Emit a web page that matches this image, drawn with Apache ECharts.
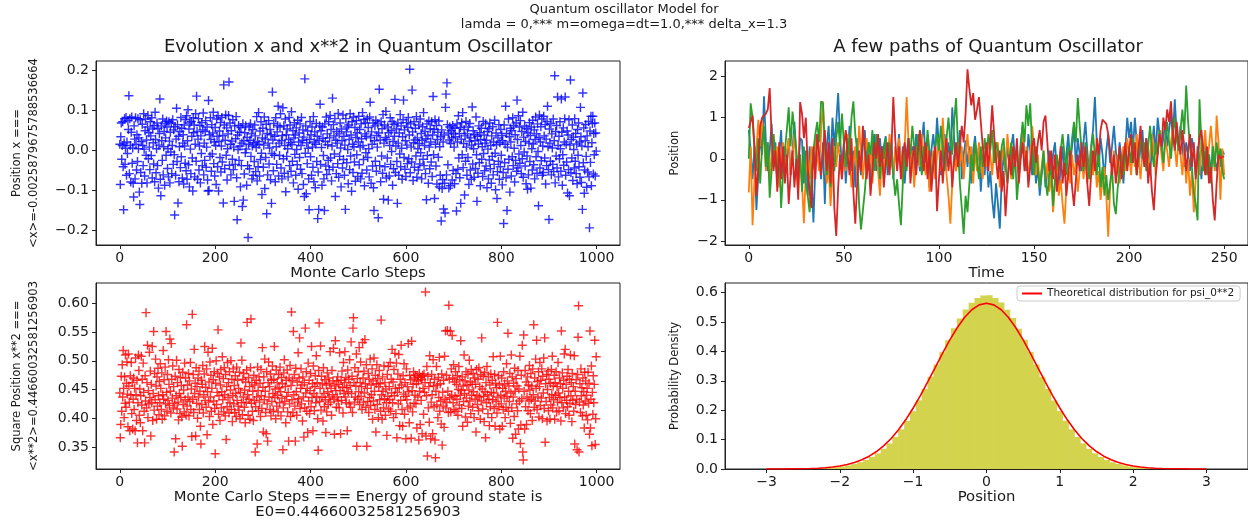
<!DOCTYPE html>
<html>
<head>
<meta charset="utf-8">
<script src="https://cdn.jsdelivr.net/npm/echarts@6/dist/echarts.min.js"></script>
<style>
  html, body { margin: 0; padding: 0; background: #fff; }
  #chart { width: 1248px; height: 524px; }
</style>
</head>
<body>
<div id="chart"></div>
<script>
// ---- Monte Carlo samples: <x> per step (1000 steps) ----
const xMean = [
0.015,-0.085,0.034,0.068,-0.022,0.012,0.071,-0.041,-0.148,0.018,0.079,-0.035,0.005,0.082,-0.062,0.021,-0.008,0.074,0.052,0.136,
-0.058,0.079,0.012,-0.079,0.045,0.083,-0.032,0.006,-0.082,-0.116,0.061,0.028,-0.071,0.081,0.015,-0.049,0.039,-0.028,0.079,0.004,
0.031,-0.104,-0.135,0.076,-0.055,0.022,-0.082,0.065,0.012,-0.038,0.091,0.003,-0.064,0.049,0.078,-0.012,0.026,-0.081,0.058,0.087,
-0.021,0.044,0.008,-0.048,0.071,0.036,-0.013,0.081,-0.069,0.053,0.019,-0.034,0.062,-0.078,0.095,0.027,-0.056,0.004,0.068,-0.038,
0.055,-0.094,0.013,0.042,0.128,-0.072,-0.113,0.061,0.024,-0.025,0.078,-0.061,0.009,0.047,-0.087,0.066,0.031,-0.012,0.073,0.058,
-0.045,0.004,-0.066,0.071,0.023,-0.081,0.045,-0.004,0.068,-0.058,0.012,0.076,-0.035,0.051,-0.011,-0.161,0.059,-0.062,0.028,0.105,
-0.028,0.064,-0.131,0.035,-0.078,0.009,0.047,-0.043,0.082,-0.016,0.055,-0.069,0.018,0.039,-0.084,0.063,0.011,-0.032,0.077,-0.051,
0.086,-0.072,0.024,0.101,-0.036,0.053,-0.091,0.068,0.003,-0.058,0.072,0.035,-0.019,-0.101,0.081,0.044,0.063,-0.066,0.015,0.091,
-0.027,0.135,0.047,-0.072,0.028,0.079,-0.049,0.011,0.062,-0.081,0.036,-0.008,0.069,-0.038,0.051,0.093,-0.061,0.018,-0.025,0.047,
0.074,-0.042,0.008,0.058,-0.074,-0.101,0.124,-0.1,0.039,-0.015,0.081,0.027,-0.052,0.064,-0.009,0.043,0.095,-0.033,0.021,-0.064,
0.057,0.012,-0.085,0.078,0.035,-0.041,0.086,-0.101,0.022,0.048,-0.018,0.069,-0.054,0.011,0.082,-0.029,0.037,-0.131,0.163,0.063,
-0.046,0.025,0.088,-0.012,0.056,-0.074,0.004,0.041,0.087,0.17,-0.037,0.068,0.015,-0.061,0.049,0.023,-0.022,0.076,-0.048,0.008,
-0.127,0.061,-0.035,0.029,0.084,-0.068,-0.173,0.038,0.002,0.062,-0.025,0.045,0.011,-0.091,0.057,-0.038,0.018,-0.14,0.066,-0.124,
0.024,-0.059,0.044,-0.006,0.061,0.003,-0.087,0.032,-0.038,-0.217,0.015,0.058,-0.046,0.025,0.066,-0.015,0.041,-0.071,0.011,0.052,
-0.062,0.019,-0.028,0.063,0.036,-0.053,0.007,0.084,-0.076,0.022,-0.041,0.094,0.015,-0.064,0.048,-0.023,0.071,-0.007,-0.11,0.031,
0.055,-0.042,0.013,0.083,-0.095,0.028,-0.018,0.065,-0.158,0.042,-0.061,0.018,0.074,-0.034,0.006,0.052,-0.073,0.039,-0.132,-0.008,
0.145,0.026,-0.051,0.067,-0.012,0.035,-0.078,0.081,0.009,-0.035,0.046,0.062,0.11,-0.064,0.018,-0.013,0.058,0.091,-0.044,0.024,
-0.071,0.037,0.106,-0.021,0.061,-0.057,0.012,0.078,-0.103,0.039,-0.015,0.053,0.004,-0.066,0.027,0.082,-0.038,0.063,0.019,-0.052,
0.096,0.014,-0.027,0.049,-0.081,0.031,0.069,-0.01,0.038,-0.062,0.056,0.002,-0.036,0.075,-0.097,0.021,0.043,-0.018,0.066,-0.047,
0.012,0.082,-0.058,0.025,0.051,-0.085,0.033,-0.115,0.178,-0.007,0.061,-0.108,0.019,-0.033,0.048,0.005,-0.071,-0.148,0.027,0.072,
-0.016,0.039,-0.062,0.058,0.008,-0.042,0.084,-0.078,0.021,0.046,-0.093,0.015,0.067,-0.028,0.035,-0.17,-0.054,-0.147,0.025,0.061,
0.115,-0.035,0.049,0.007,-0.087,0.058,0.03,-0.013,-0.071,-0.15,0.066,0.022,-0.039,0.083,-0.06,0.041,0.014,-0.025,0.071,-0.048,
0.031,0.087,-0.019,0.052,-0.076,0.011,0.13,-0.042,0.064,0.036,-0.009,0.079,-0.115,0.025,-0.058,0.047,0.018,-0.033,0.092,-0.067,
0.041,-0.015,0.068,0.006,-0.091,0.053,0.024,-0.044,0.088,-0.023,0.035,-0.062,0.013,-0.147,0.079,0.046,-0.031,0.058,0.002,-0.083,
0.063,0.027,-0.048,0.091,-0.014,0.038,-0.102,0.071,0.015,-0.055,0.083,0.009,-0.029,0.057,-0.077,0.032,0.074,-0.011,0.044,-0.065,
0.021,0.085,-0.036,0.052,0.008,-0.071,0.066,0.029,-0.057,0.094,0.012,-0.023,0.077,-0.088,0.041,0.068,-0.006,0.035,-0.049,0.079,
-0.018,0.057,0.004,-0.066,0.083,0.12,0.031,-0.082,0.046,0.015,-0.039,0.068,-0.093,-0.15,0.024,0.061,-0.027,0.075,-0.052,0.037,
0.008,0.066,-0.168,0.043,0.152,-0.038,0.026,-0.078,0.071,-0.014,0.054,-0.057,0.089,-0.122,0.018,0.063,-0.041,0.032,0.097,-0.069,
0.027,-0.019,0.058,-0.124,0.044,-0.064,0.012,0.081,-0.035,0.049,-0.003,0.072,-0.087,0.022,-0.046,0.065,0.035,0.127,-0.055,0.011,
0.053,-0.028,-0.132,0.068,0.018,-0.062,0.043,-0.009,0.089,-0.041,0.061,0.005,-0.072,0.034,0.076,0.125,-0.018,0.051,-0.047,0.024,
-0.065,0.069,0.013,-0.033,0.057,0.082,-0.021,0.038,0.202,-0.056,0.066,0.008,-0.029,0.15,0.046,-0.075,0.019,0.071,-0.042,0.026,
0.055,-0.014,0.084,-0.067,0.031,0.004,-0.049,0.063,0.017,-0.034,0.078,-0.006,0.042,-0.071,0.025,0.059,-0.022,0.094,-0.038,0.012,
0.047,-0.058,0.029,-0.123,0.066,-0.013,0.036,-0.082,0.073,0.008,-0.046,0.054,0.021,-0.029,0.071,-0.065,0.038,0.134,-0.011,0.052,
-0.12,0.076,0.015,-0.039,0.062,-0.084,0.027,0.045,-0.017,0.073,-0.091,0.009,-0.062,0.034,-0.176,0.051,-0.095,-0.073,0.021,-0.146,
0.038,-0.082,-0.156,0.107,0.14,-0.061,0.168,0.064,-0.036,0.043,-0.094,0.026,0.058,-0.088,0.017,0.049,0.031,-0.074,0.062,-0.05,
0.041,0.008,-0.083,0.055,0.034,-0.058,-0.151,0.066,0.021,-0.047,0.086,-0.019,0.042,-0.068,0.057,-0.132,0.028,0.069,-0.011,0.094,
-0.043,0.017,0.052,-0.111,0.036,-0.027,0.072,0.008,-0.062,0.041,-0.018,0.058,-0.085,0.023,0.067,-0.049,0.031,-0.072,0.013,0.108,
-0.034,0.049,0.004,-0.067,0.039,0.024,-0.045,0.083,-0.011,-0.127,0.035,-0.057,0.016,0.061,-0.031,0.044,-0.088,0.027,0.055,-0.022,
0.009,-0.065,0.072,-0.008,0.038,-0.051,0.018,0.066,-0.039,0.025,-0.093,0.047,0.003,-0.071,0.054,-0.024,0.068,-0.046,0.012,-0.082,
0.036,-0.015,0.059,-0.061,0.021,-0.035,0.075,-0.007,-0.098,0.043,0.014,-0.12,-0.053,0.031,-0.027,0.064,-0.072,0.019,-0.041,0.052,
-0.012,0.037,-0.086,0.024,-0.055,-0.182,0.063,-0.031,0.015,0.11,-0.068,0.042,-0.15,0.008,-0.047,0.078,-0.022,0.034,-0.104,0.055,
0.021,-0.064,0.049,-0.016,0.081,-0.038,0.062,0.005,-0.079,0.039,-0.025,0.068,-0.052,0.125,0.027,-0.044,0.086,-0.009,0.058,-0.032,
0.074,0.012,-0.058,0.047,-0.021,0.095,-0.067,0.033,-0.004,0.061,-0.039,0.022,-0.083,0.054,-0.014,-0.097,0.043,-0.061,0.018,0.069,
-0.028,0.037,-0.094,0.058,0.004,-0.049,0.075,0.016,-0.036,0.051,-0.071,0.027,0.083,-0.016,0.041,-0.057,0.066,-0.003,-0.138,0.032,
0.088,-0.044,0.021,0.059,-0.026,0.078,-0.062,0.011,-0.055,0.085,0.036,-0.019,0.064,-0.084,0.028,-0.038,0.072,0.11,0.009,-0.048,
-0.172,0.053,0.018,-0.027,0.067,-0.061,0.041,0.006,-0.035,0.078,-0.053,0.024,0.186,-0.081,0.047,-0.014,0.062,-0.044,0.133,0.012,
-0.066,0.035,-0.021,0.071,0.004,-0.052,0.128,0.045,-0.087,-0.011,0.056,-0.037,0.021,0.079,0.133,-0.062,0.015,-0.029,0.048,-0.106,
0.038,-0.048,0.076,-0.113,0.013,0.175,-0.056,0.027,-0.019,0.063,-0.075,0.033,0.002,-0.044,0.079,-0.027,0.042,-0.058,0.016,-0.083,
0.052,-0.012,0.068,-0.041,0.021,-0.067,0.107,0.034,-0.08,0.011,-0.147,0.143,-0.031,0.056,-0.107,-0.049,0.024,0.064,-0.015,-0.092,
0.036,-0.054,0.009,0.072,-0.066,-0.193,0.048,-0.03,0.085,-0.088,0.019,0.067,0.085,-0.059,0.042,-0.011,0.068,-0.064,0.043,-0.002
];

// ---- Monte Carlo samples: <x**2> per step (1000 steps) ----
const xSquare = [
0.444,0.366,0.389,0.473,0.412,0.493,0.437,0.518,0.452,0.401,0.472,0.426,0.51,0.419,0.461,0.498,0.442,0.385,0.512,0.456,
0.428,0.378,0.474,0.44,0.497,0.408,0.462,0.381,0.433,0.47,0.415,0.452,0.378,0.505,0.441,0.396,0.466,0.357,0.427,0.51,
0.483,0.405,0.451,0.392,0.439,0.508,0.423,0.468,0.378,0.496,0.445,0.412,0.357,0.474,0.43,0.584,0.418,0.462,0.527,0.401,
0.448,0.425,0.515,0.436,0.482,0.369,0.459,0.427,0.525,0.396,0.443,0.551,0.414,0.478,0.432,0.503,0.456,0.398,0.472,0.421,
0.487,0.439,0.406,0.464,0.427,0.495,0.452,0.415,0.479,0.398,0.441,0.518,0.433,0.467,0.404,0.489,0.425,0.551,0.445,0.412,
0.476,0.431,0.502,0.459,0.422,0.538,0.447,0.409,0.53,0.468,0.435,0.491,0.418,0.455,0.341,0.426,0.473,0.364,0.439,0.501,
0.416,0.462,0.428,0.397,0.485,0.443,0.408,0.471,0.436,0.457,0.402,0.351,0.48,0.424,0.449,0.411,0.496,0.432,0.47,0.405,
0.563,0.421,0.458,0.437,0.478,0.404,0.465,0.429,0.497,0.415,0.451,0.368,0.581,0.433,0.476,0.41,0.52,0.443,0.461,0.369,
0.488,0.426,0.455,0.4,0.47,0.437,0.482,0.415,0.447,0.386,0.355,0.466,0.424,0.459,0.492,0.409,0.441,0.477,0.525,0.431,
0.454,0.419,0.486,0.371,0.446,0.515,0.428,0.463,0.403,0.498,0.437,0.475,0.412,0.452,0.522,0.389,0.467,0.43,0.481,0.417,
0.338,0.461,0.5,0.424,0.445,0.478,0.554,0.407,0.439,0.472,0.396,0.458,0.485,0.418,0.446,0.507,0.432,0.469,0.411,0.488,
0.441,0.404,0.476,0.363,0.455,0.42,0.497,0.436,0.462,0.409,0.481,0.427,0.449,0.5,0.415,0.468,0.394,0.439,0.486,0.425,
0.457,0.41,0.474,0.443,0.403,0.489,0.431,0.466,0.421,0.452,0.414,0.48,0.399,0.445,0.531,0.427,0.501,0.406,0.468,0.437,
0.478,0.419,0.449,0.392,0.463,0.428,0.484,0.567,0.441,0.405,0.471,0.433,0.455,0.398,0.488,0.573,0.426,0.462,0.412,0.447,
0.396,0.475,0.431,0.458,0.341,0.42,0.466,0.437,0.355,0.489,0.448,0.413,0.472,0.428,0.461,0.403,0.485,0.439,0.417,0.523,
0.454,0.376,0.472,0.432,0.503,0.447,0.41,0.373,0.481,0.425,0.36,0.462,0.498,0.437,0.455,0.415,0.477,0.404,0.466,0.429,
0.491,0.443,0.412,0.468,0.525,0.436,0.451,0.399,0.484,0.421,0.462,0.44,0.411,0.476,0.453,0.427,0.489,0.446,0.404,0.471,
0.435,0.46,0.345,0.418,0.479,0.502,0.429,0.455,0.392,0.466,0.438,0.484,0.411,0.445,0.36,0.47,0.425,0.492,0.403,0.457,
0.585,0.432,0.466,0.41,0.551,0.441,0.476,0.421,0.36,0.487,0.446,0.405,0.463,0.428,0.514,0.434,0.47,0.54,0.417,0.452,
0.486,0.425,0.458,0.395,0.472,0.437,0.367,0.462,0.418,0.557,0.444,0.481,0.412,0.452,0.375,0.496,0.43,0.466,0.408,0.448,
0.478,0.42,0.525,0.436,0.46,0.378,0.491,0.443,0.413,0.455,0.474,0.427,0.509,0.438,0.462,0.399,0.344,0.483,0.566,0.429,
0.452,0.526,0.414,0.473,0.436,0.46,0.395,0.488,0.443,0.42,0.467,0.432,0.375,0.458,0.411,0.479,0.446,0.424,0.47,0.437,
0.461,0.516,0.428,0.452,0.405,0.483,0.441,0.465,0.522,0.433,0.372,0.456,0.535,0.448,0.419,0.465,0.437,0.472,0.43,0.459,
0.418,0.514,0.448,0.373,0.466,0.431,0.482,0.454,0.409,0.497,0.443,0.462,0.516,0.437,0.471,0.427,0.453,0.378,0.484,0.446,
0.468,0.425,0.502,0.457,0.419,0.533,0.443,0.473,0.41,0.557,0.575,0.462,0.428,0.488,0.437,0.456,0.512,0.351,0.469,0.433,
0.481,0.446,0.523,0.424,0.462,0.498,0.438,0.455,0.415,0.532,0.47,0.428,0.482,0.444,0.537,0.46,0.419,0.493,0.351,0.452,
0.429,0.478,0.41,0.468,0.436,0.503,0.422,0.458,0.441,0.486,0.398,0.465,0.43,0.505,0.447,0.415,0.475,0.376,0.46,0.493,
0.424,0.469,0.401,0.455,0.483,0.432,0.46,0.412,0.571,0.441,0.398,0.472,0.447,0.418,0.491,0.434,0.462,0.405,0.451,0.427,
0.37,0.476,0.438,0.49,0.416,0.455,0.432,0.497,0.412,0.468,0.444,0.52,0.427,0.463,0.401,0.485,0.439,0.513,0.452,0.408,
0.496,0.366,0.445,0.477,0.425,0.511,0.453,0.387,0.468,0.431,0.527,0.458,0.415,0.386,0.474,0.442,0.495,0.407,0.462,0.438,
0.364,0.486,0.432,0.455,0.418,0.53,0.446,0.392,0.475,0.421,0.467,0.365,0.534,0.448,0.411,0.459,0.481,0.426,0.47,0.44,
0.475,0.425,0.46,0.383,0.472,0.437,0.465,0.362,0.478,0.447,0.389,0.471,0.431,0.467,0.373,0.475,0.452,0.407,0.477,0.445,
0.462,0.62,0.369,0.439,0.49,0.334,0.473,0.418,0.455,0.393,0.509,0.462,0.364,0.428,0.476,0.441,0.373,0.502,0.456,0.42,
0.468,0.362,0.331,0.447,0.49,0.423,0.458,0.401,0.471,0.436,0.506,0.412,0.46,0.43,0.39,0.477,0.353,0.445,0.421,0.466,
0.384,0.508,0.433,0.552,0.418,0.475,0.428,0.553,0.447,0.41,0.597,0.468,0.436,0.552,0.411,0.486,0.44,0.544,0.47,0.427,
0.493,0.415,0.463,0.438,0.481,0.412,0.459,0.433,0.474,0.405,0.45,0.49,0.423,0.467,0.44,0.535,0.448,0.417,0.472,0.386,
0.456,0.429,0.51,0.443,0.465,0.402,0.481,0.435,0.458,0.393,0.476,0.421,0.449,0.501,0.43,0.463,0.408,0.485,0.44,0.459,
0.419,0.478,0.446,0.401,0.47,0.433,0.459,0.376,0.485,0.44,0.424,0.468,0.413,0.488,0.437,0.455,0.398,0.476,0.43,0.54,
0.451,0.416,0.473,0.438,0.394,0.48,0.446,0.366,0.462,0.427,0.49,0.441,0.408,0.472,0.433,0.387,0.458,0.42,0.477,0.445,
0.401,0.466,0.432,0.507,0.444,0.417,0.476,0.386,0.461,0.429,0.453,0.409,0.567,0.437,0.474,0.42,0.458,0.381,0.508,0.44,
0.425,0.47,0.386,0.452,0.415,0.481,0.435,0.46,0.401,0.447,0.419,0.495,0.438,0.465,0.548,0.412,0.456,0.429,0.478,0.391,
0.444,0.51,0.418,0.472,0.365,0.437,0.461,0.403,0.487,0.447,0.372,0.469,0.425,0.456,0.413,0.483,0.381,0.451,0.43,0.508,
0.356,0.388,0.475,0.434,0.527,0.341,0.327,0.545,0.447,0.381,0.483,0.42,0.463,0.389,0.437,0.472,0.413,0.458,0.43,0.492,
0.449,0.408,0.478,0.433,0.456,0.396,0.486,0.441,0.563,0.419,0.47,0.43,0.503,0.452,0.536,0.415,0.464,0.437,0.481,0.402,
0.455,0.497,0.422,0.466,0.435,0.486,0.399,0.473,0.444,0.505,0.417,0.54,0.358,0.46,0.429,0.476,0.395,0.45,0.482,0.413,
0.468,0.436,0.398,0.461,0.423,0.485,0.441,0.508,0.418,0.456,0.432,0.475,0.398,0.462,0.44,0.481,0.411,0.455,0.428,0.497,
0.444,0.413,0.47,0.436,0.46,0.395,0.552,0.427,0.479,0.452,0.418,0.466,0.512,0.437,0.52,0.408,0.459,0.431,0.473,0.42,
0.485,0.447,0.405,0.468,0.426,0.51,0.439,0.462,0.394,0.478,0.431,0.455,0.412,0.509,0.355,0.447,0.424,0.467,0.433,0.345,
0.476,0.541,0.596,0.341,0.428,0.46,0.41,0.486,0.439,0.453,0.404,0.47,0.423,0.446,0.383,0.48,0.43,0.465,0.405,0.44,
0.452,0.397,0.48,0.426,0.461,0.372,0.552,0.383,0.433,0.491,0.352,0.445,0.407,0.474,0.427,0.459,0.536,0.354,0.399,0.507
];

// ---- Four sample paths, position at times 0..250 ----
const pathBlue = [
0.7,0.2,-0.5,0.3,-1.25,-0.4,0.6,0.1,1.52,0.4,-0.3,0.2,0.85,-0.2,0.4,-0.6,0.1,0.7,-0.35,0.3,-0.1,0.5,-0.4,0.2,0.9,
0.1,-0.3,0.5,0.45,-0.6,0.2,-0.9,0.3,-0.4,-1.55,-0.2,0.6,0.1,-0.5,0.4,-1.1,0.3,0.8,-0.2,1.0,0.3,0.9,1.6,0.5,-0.2,
0.4,-0.6,0.1,0.8,-0.3,0.2,-0.7,0.5,0.0,-0.4,0.3,0.7,-0.1,0.4,-0.55,0.2,0.6,-0.3,0.1,0.5,-0.2,0.3,0.55,-0.4,0.1,
0.45,-0.5,0.2,0.0,0.6,-0.3,0.3,-0.6,0.15,0.5,-0.2,0.3,-0.45,0.6,0.1,-0.3,0.4,0.9,-0.1,0.5,-0.7,0.2,0.6,0.1,1.0,
0.3,-0.4,0.2,0.6,-0.2,0.4,0.0,1.25,0.5,-0.3,0.2,0.7,-0.5,0.1,0.45,-0.2,0.3,-0.6,0.2,0.55,-0.1,0.3,-0.8,0.0,-0.4,
0.2,-0.7,-0.3,-1.0,-1.45,-0.6,-1.1,-1.7,-0.5,0.1,-0.3,0.4,-0.2,0.3,0.6,-0.1,0.2,-0.5,0.4,0.8,0.1,-0.3,0.6,0.2,-0.4,
0.3,-0.6,-0.2,-0.9,-0.4,0.1,-0.7,-0.3,0.2,-0.5,0.1,0.4,-0.3,-0.8,-0.2,0.3,-0.4,0.1,0.6,-0.1,0.3,0.8,-0.2,0.5,0.1,
-0.3,0.4,0.9,0.2,-0.4,0.3,0.7,1.5,0.4,-0.2,0.5,0.1,-0.5,0.2,0.6,-0.1,0.3,0.8,0.2,-0.3,0.4,0.0,-0.6,0.2,1.0,
0.5,0.9,0.2,1.0,0.4,-0.2,0.3,0.7,-0.1,0.5,0.2,-0.4,0.3,0.8,0.1,1.0,0.6,0.2,0.5,0.9,0.3,0.7,1.1,0.5,1.45,
0.6,0.2,0.8,0.3,-0.2,0.4,0.1,-0.3,0.5,0.2,-0.4,0.3,0.0,-0.5,0.2,0.4,-0.2,0.1,-0.4,0.3,0.0,-0.3,0.1,-0.2,0.2,
0.1
];
const pathOrange = [
-0.82,0.3,-1.62,-0.5,0.2,0.95,0.3,0.95,0.5,-0.3,0.4,-0.5,0.1,0.6,-0.2,0.3,-0.7,0.0,0.4,-0.3,0.2,0.5,-0.4,0.1,0.6,
-0.2,-0.8,0.1,-0.6,-1.57,-0.3,0.2,-0.5,0.3,-0.1,0.5,0.1,-0.3,0.6,1.4,0.2,-0.6,-0.2,-1.15,-0.4,0.3,-0.2,0.4,0.0,-0.5,
0.2,-0.3,0.6,0.1,-0.7,-0.2,0.3,-0.4,0.8,0.2,-0.5,0.1,0.5,-0.2,0.3,-0.6,0.0,0.4,-0.3,-0.9,0.2,-0.5,0.3,-0.1,0.6,
0.1,-0.4,0.3,-0.2,0.5,0.0,-0.6,0.3,1.5,0.4,-0.3,0.2,-0.7,0.1,0.4,-0.2,0.6,0.0,-0.4,0.3,-0.8,-0.2,0.2,-0.5,0.1,
0.5,-0.3,1.0,0.2,-0.4,-0.9,-1.58,-0.6,0.1,-0.3,0.4,-0.2,0.3,-0.5,0.1,0.6,-0.1,0.3,-0.6,0.2,-0.3,0.4,0.0,-0.5,0.2,
-0.2,0.5,0.1,-0.4,0.3,-0.1,0.4,-0.7,0.0,0.3,-0.3,0.6,0.1,-0.5,0.2,-0.1,0.3,-0.4,0.1,0.7,-0.2,0.3,-0.5,0.0,0.8,
0.3,-0.4,0.1,-0.7,-0.2,0.2,-0.5,-0.1,-0.8,-0.4,-1.3,-0.6,-0.2,-0.9,-0.5,-1.1,-1.58,-0.7,-0.2,-0.6,0.1,-0.4,-0.1,-0.8,-0.3,
0.2,-0.5,0.0,-0.6,-0.2,0.3,-0.4,0.1,-0.7,-0.3,-1.0,-0.5,-0.2,-0.9,-1.9,-0.7,-0.2,0.2,-0.4,0.1,-0.6,-0.2,0.3,-0.3,0.5,
0.1,-0.4,0.3,-0.2,0.6,0.0,-0.5,0.2,-0.1,0.4,-0.3,0.1,0.6,0.2,-0.4,0.3,0.7,0.1,-0.3,0.5,0.2,-0.2,0.4,0.8,0.3,
-0.2,0.5,0.1,-0.4,0.3,-0.6,0.0,-0.9,-0.3,-1.3,-0.5,0.2,-0.4,0.4,0.1,0.7,-0.1,0.3,0.8,0.2,-0.3,1.05,0.4,-1.0,0.25,
-0.4
];
const pathGreen = [
0.0,1.35,1.0,0.2,-0.3,0.5,-0.6,0.3,0.8,-0.2,0.4,-0.95,-0.3,0.6,0.1,-0.5,0.3,-1.2,-0.4,0.2,0.7,1.25,0.3,1.15,1.15,
0.2,-0.5,0.1,-0.8,0.3,-0.6,-0.9,-1.3,-0.4,0.2,0.6,0.9,0.4,1.4,1.35,0.3,-0.4,0.1,-0.7,0.2,-0.3,0.5,0.9,0.3,1.1,
0.4,-0.2,0.5,0.1,1.0,1.4,0.6,0.2,-1.1,-1.72,-1.72,-0.8,-0.2,0.4,0.1,0.7,-0.3,0.6,0.2,-0.5,0.3,0.0,0.5,-0.2,0.4,
0.1,-0.4,-0.9,-0.5,-1.1,-1.62,-0.6,0.2,-0.3,0.5,0.1,0.8,0.3,-0.2,0.6,0.2,-0.4,0.3,0.0,0.7,0.2,-0.5,-0.1,0.3,0.6,
0.2,0.8,0.3,-0.3,0.5,1.0,0.4,0.1,0.9,1.48,0.3,-0.6,-1.2,-1.83,-0.9,-1.3,-0.6,0.1,-0.3,0.4,0.0,-0.5,0.3,-0.2,0.5,
0.1,0.6,0.2,0.7,-0.1,0.4,0.2,-0.3,0.3,0.5,-0.2,-0.6,-0.1,0.4,-0.5,0.2,-1.0,-0.4,0.3,0.9,0.4,1.3,0.8,1.35,0.2,
-0.4,0.3,-0.2,-0.7,-0.3,0.2,-0.5,-0.9,-0.4,-0.1,-1.15,-0.5,0.1,-0.3,0.2,0.6,0.1,-0.4,0.3,0.0,0.5,0.9,0.4,1.48,0.8,
0.2,-0.3,0.4,0.0,-0.5,0.2,0.6,0.1,-0.4,0.3,-0.7,-0.2,-0.9,-0.4,-1.0,-0.6,-0.2,-1.1,-1.35,-0.7,-0.3,0.1,-0.4,0.2,-0.2,
0.3,-0.1,0.5,0.1,-0.4,0.2,0.6,0.0,0.4,-0.3,0.3,0.8,0.2,-0.2,0.4,0.1,0.7,0.3,-0.1,0.5,0.9,0.4,0.0,0.6,1.0,
0.5,0.2,0.7,1.2,0.6,1.78,0.9,0.3,-0.2,-0.8,-1.1,-1.5,1.45,0.4,-0.3,0.2,-0.4,0.1,-0.6,0.3,-0.2,0.4,0.0,0.25,-0.3,
-0.5
];
const pathRed = [
0.75,0.9,1.05,0.3,-0.9,-0.2,0.8,1.0,1.05,1.1,1.2,1.72,0.6,-0.3,0.2,-0.8,0.4,-0.5,0.3,-0.6,0.1,-1.1,-0.4,0.2,-0.7,
0.0,-1.0,1.38,1.1,0.5,1.0,-0.2,-0.8,-1.2,0.3,-0.5,0.6,0.1,-0.4,0.2,0.7,-0.3,0.4,-0.6,0.5,-1.2,-1.88,-0.7,0.1,-0.5,
0.3,0.7,0.1,-0.4,0.5,-0.8,-1.58,-0.6,0.2,-0.3,0.8,0.3,-0.5,0.1,-0.9,-0.3,0.4,0.0,0.6,-0.2,0.3,-0.7,-0.1,0.4,-0.4,
0.2,1.5,0.5,-0.3,0.3,-0.5,0.1,0.4,-0.2,0.5,-0.6,0.0,0.3,-0.4,0.2,0.7,0.1,-0.3,0.4,-0.5,0.2,-0.8,-0.2,0.3,-1.28,
-0.5,0.2,-0.6,0.1,0.5,-0.3,0.2,-0.7,0.0,0.4,-0.2,0.3,0.8,0.4,1.1,2.18,1.7,1.3,1.6,0.95,1.2,1.5,0.9,0.3,-0.2,
0.4,-0.3,0.5,1.3,0.6,0.0,-0.5,0.2,-0.8,-0.3,-1.4,-0.6,0.1,-0.4,0.3,-0.2,0.5,-0.6,0.0,0.4,-0.3,0.2,-0.7,-0.2,0.3,
0.5,-0.1,0.4,0.7,0.2,0.9,1.05,0.4,-0.3,0.2,-0.5,0.1,-0.8,-0.3,0.3,-0.6,-0.1,-0.9,-0.4,0.2,-0.7,-1.15,-0.5,0.1,-0.3,
0.4,-0.2,0.3,-0.6,-1.15,-0.4,0.2,-0.3,0.5,0.1,0.7,0.95,0.95,0.85,0.6,0.2,-0.4,0.1,-0.6,-0.2,0.3,-0.5,0.0,0.4,-0.3,
0.2,0.6,-0.1,0.4,-0.4,0.3,0.8,0.2,-0.2,0.5,-0.6,-0.1,-0.8,-1.25,-0.4,0.1,0.6,0.3,1.0,0.7,1.2,0.9,1.4,0.6,0.2,
0.9,0.4,0.1,0.7,0.3,-0.3,0.2,0.6,-0.2,0.4,-0.5,0.1,0.5,0.7,0.2,-0.4,0.3,-0.6,-0.2,-1.0,-1.5,-0.6,0.1,0.0,0.05,
0.05
];

// ---- Histogram of sampled positions (bin centres, density) ----
const binWidth = 0.08;
const histCenters = [
-2.76,-2.68,-2.60,-2.52,-2.44,-2.36,-2.28,-2.20,-2.12,-2.04,-1.96,-1.88,-1.80,-1.72,-1.64,-1.56,-1.48,-1.40,-1.32,-1.24,
-1.16,-1.08,-1.00,-0.92,-0.84,-0.76,-0.68,-0.60,-0.52,-0.44,-0.36,-0.28,-0.20,-0.12,-0.04,
0.04,0.12,0.20,0.28,0.36,0.44,0.52,0.60,0.68,0.76,0.84,0.92,1.00,1.08,1.16,1.24,1.32,1.40,1.48,1.56,
1.64,1.72,1.80,1.88,1.96,2.04,2.12,2.20,2.28,2.36,2.44,2.52,2.60,2.68,2.76
];
const histDensity = [
0.0001,0.0002,0.0004,0.0006,0.0009,0.0013,0.002,0.003,0.0044,0.0062,0.0088,0.0121,0.0168,0.0232,0.0306,0.0412,0.0531,0.0689,0.0868,0.1093,
0.1352,0.1638,0.1965,0.2338,0.2721,0.3142,0.3558,0.3975,0.4385,0.4791,0.5124,0.5428,0.5655,0.5823,0.5905,
0.5912,0.5818,0.5664,0.5419,0.5135,0.4776,0.4398,0.3981,0.3552,0.3137,0.2729,0.2331,0.1972,0.1641,0.1349,0.1088,0.0872,0.0686,0.0533,0.0409,
0.0309,0.0229,0.0170,0.0122,0.0086,0.0060,0.0043,0.0029,0.0019,0.0013,0.0008,0.0006,0.0003,0.0002,0.0001
];

// ---- Theoretical |psi_0|^2 sampled on -3..3 ----
const theoryX = [
-3.0,-2.9,-2.8,-2.7,-2.6,-2.5,-2.4,-2.3,-2.2,-2.1,-2.0,-1.9,-1.8,-1.7,-1.6,-1.5,-1.4,-1.3,-1.2,-1.1,
-1.0,-0.9,-0.8,-0.7,-0.6,-0.5,-0.4,-0.3,-0.2,-0.1,0.0,0.1,0.2,0.3,0.4,0.5,0.6,0.7,0.8,0.9,
1.0,1.1,1.2,1.3,1.4,1.5,1.6,1.7,1.8,1.9,2.0,2.1,2.2,2.3,2.4,2.5,2.6,2.7,2.8,2.9,3.0
];
const theoryY = [
0.0001,0.0001,0.0002,0.0004,0.0007,0.0011,0.0018,0.0028,0.0045,0.0068,0.0103,0.0152,0.0221,0.0313,0.0436,0.0595,0.0795,0.1038,0.1334,0.1682,
0.2076,0.2508,0.2975,0.3450,0.3936,0.4394,0.4808,0.5156,0.5421,0.5586,0.5642,0.5586,0.5421,0.5156,0.4808,0.4394,0.3936,0.3450,0.2975,0.2508,
0.2076,0.1682,0.1334,0.1038,0.0795,0.0595,0.0436,0.0313,0.0221,0.0152,0.0103,0.0068,0.0045,0.0028,0.0018,0.0011,0.0007,0.0004,0.0002,0.0001,0.0001
];

// ---- Tick positions ----
const stepTicks = [0, 200, 400, 600, 800, 1000];
const xMeanTicks = [-0.2, -0.1, 0.0, 0.1, 0.2];
const xSquareTicks = [0.35, 0.40, 0.45, 0.50, 0.55, 0.60];
const timeTicks = [0, 50, 100, 150, 200, 250];
const pathTicks = [-2, -1, 0, 1, 2];
const posTicks = [-3, -2, -1, 0, 1, 2, 3];
const densTicks = [0.0, 0.1, 0.2, 0.3, 0.4, 0.5, 0.6];

// ---- Text ----
const supTitle1 = 'Quantum oscillator Model for';
const supTitle2 = 'lamda = 0,*** m=omega=dt=1.0,*** delta_x=1.3';
const title1 = 'Evolution x and x**2 in Quantum Oscillator';
const title2 = 'A few paths of Quantum Oscillator';
const legendName = 'Theoretical distribution for psi_0**2';

const FONT = 'DejaVu Sans, Liberation Sans, sans-serif';
const INK = '#1a1a1a';
const MINUS = '\u2212';
const fmt = (d) => (v) => (v < 0 ? MINUS : '') + Math.abs(v).toFixed(d);

function makeX(gridIndex, min, max, ticks, dec, name, gap) {
  return {
    type: 'value', gridIndex, min, max,
    name, nameLocation: 'middle', nameGap: gap,
    nameTextStyle: { fontFamily: FONT, fontSize: 14.8, color: INK, lineHeight: 15 },
    axisLine: { show: true, onZero: false, lineStyle: { color: '#222', width: 1 } },
    axisTick: { show: true, inside: false, length: 4, customValues: ticks, lineStyle: { color: '#222', width: 1 } },
    axisLabel: { show: true, margin: 6, customValues: ticks, formatter: fmt(dec),
      fontFamily: FONT, fontSize: 14, color: INK },
    splitLine: { show: false }
  };
}
function makeY(gridIndex, min, max, ticks, dec, name, gap) {
  return {
    type: 'value', gridIndex, min, max,
    name, nameLocation: 'middle', nameGap: gap, nameRotate: 90,
    nameTextStyle: { fontFamily: FONT, fontSize: 11.5, color: INK, lineHeight: 16.5 },
    axisLine: { show: true, onZero: false, lineStyle: { color: '#222', width: 1 } },
    axisTick: { show: true, inside: false, length: 4, customValues: ticks, lineStyle: { color: '#222', width: 1 } },
    axisLabel: { show: true, margin: 7, customValues: ticks, formatter: fmt(dec),
      fontFamily: FONT, fontSize: 14, color: INK },
    splitLine: { show: false }
  };
}

const PLUS = 'path://M4.2,0h1.6v4.2h4.2v1.6h-4.2v4.2h-1.6v-4.2h-4.2v-1.6h4.2z';
const gridBox = { show: true, borderColor: '#222', borderWidth: 1, backgroundColor: 'transparent' };

const chart = echarts.init(document.getElementById('chart'), null, { renderer: 'canvas' });

chart.setOption({
  animation: false,
  backgroundColor: '#ffffff',
  textStyle: { fontFamily: FONT },
  graphic: [
    { type: 'text', x: 624, y: 10,
      style: { text: supTitle1, font: '13px ' + FONT, fill: INK, align: 'center', verticalAlign: 'middle' } },
    { type: 'text', x: 624, y: 25,
      style: { text: supTitle2, font: '13px ' + FONT, fill: INK, align: 'center', verticalAlign: 'middle' } },
    { type: 'text', x: 358, y: 47,
      style: { text: title1, font: '18px ' + FONT, fill: INK, align: 'center', verticalAlign: 'middle' } },
    { type: 'text', x: 988, y: 47,
      style: { text: title2, font: '18px ' + FONT, fill: INK, align: 'center', verticalAlign: 'middle' } }
  ],
  legend: {
    data: [legendName],
    left: 1017, top: 286,
    orient: 'horizontal',
    icon: 'rect', itemWidth: 20, itemHeight: 2, itemGap: 4,
    padding: [2, 6, 2, 5],
    borderColor: '#cccccc', borderWidth: 1, borderRadius: 3,
    backgroundColor: 'rgba(255,255,255,0.8)',
    textStyle: { fontFamily: FONT, fontSize: 10.5, color: INK },
    selectedMode: false
  },
  grid: [
    Object.assign({ left: 96, top: 61, width: 524, height: 184 }, gridBox),
    Object.assign({ left: 725, top: 61, width: 530, height: 184 }, gridBox),
    Object.assign({ left: 96, top: 283, width: 524, height: 186 }, gridBox),
    Object.assign({ left: 725, top: 283, width: 535, height: 186 }, gridBox)
  ],
  xAxis: [
    makeX(0, -49.95, 1048.95, stepTicks, 0, 'Monte Carlo Steps', 20),
    makeX(1, -12.5, 262.5, timeTicks, 0, 'Time', 20),
    makeX(2, -49.95, 1048.95, stepTicks, 0,
      'Monte Carlo Steps === Energy of ground state is\nE0=0.44660032581256903', 18),
    makeX(3, -3.567, 3.567, posTicks, 0, 'Position', 19)
  ],
  yAxis: [
    makeY(0, -0.2357, 0.2225, xMeanTicks, 1, 'Position x ===\n<x>=-0.0025879675788536664', 54),
    makeY(1, -2.1, 2.38, pathTicks, 0, 'Position', 42),
    makeY(2, 0.3114, 0.6357, xSquareTicks, 2, 'Square Position x**2 ===\n<x**2>=0.44660032581256903', 54),
    makeY(3, 0, 0.633, densTicks, 1, 'Probability Density', 42)
  ],
  series: [
    { type: 'scatter', xAxisIndex: 0, yAxisIndex: 0, symbol: PLUS, symbolSize: 9,
      itemStyle: { color: '#0000ff' }, silent: true,
      data: xMean.map((v, i) => [i, v]) },
    { type: 'line', xAxisIndex: 1, yAxisIndex: 1, symbol: 'none', silent: true,
      lineStyle: { color: '#1f77b4', width: 1.8 }, data: pathBlue.map((v, i) => [i, v]) },
    { type: 'line', xAxisIndex: 1, yAxisIndex: 1, symbol: 'none', silent: true,
      lineStyle: { color: '#ff7f0e', width: 1.8 }, data: pathOrange.map((v, i) => [i, v]) },
    { type: 'line', xAxisIndex: 1, yAxisIndex: 1, symbol: 'none', silent: true,
      lineStyle: { color: '#2ca02c', width: 1.8 }, data: pathGreen.map((v, i) => [i, v]) },
    { type: 'line', xAxisIndex: 1, yAxisIndex: 1, symbol: 'none', silent: true,
      lineStyle: { color: '#d62728', width: 1.8 }, data: pathRed.map((v, i) => [i, v]) },
    { type: 'scatter', xAxisIndex: 2, yAxisIndex: 2, symbol: PLUS, symbolSize: 9,
      itemStyle: { color: '#ff0000' }, silent: true,
      data: xSquare.map((v, i) => [i, v]) },
    { type: 'custom', xAxisIndex: 3, yAxisIndex: 3, silent: true,
      data: histCenters.map((c, i) => [c, histDensity[i]]),
      renderItem: function (params, api) {
        const c = api.value(0), h = api.value(1);
        const p0 = api.coord([c - binWidth / 2, h]);
        const p1 = api.coord([c + binWidth / 2, 0]);
        // slight overlap so neighbouring bars join without hairline gaps
        return { type: 'rect',
          shape: { x: p0[0] - 0.3, y: p0[1], width: p1[0] - p0[0] + 0.6, height: p1[1] - p0[1] },
          style: { fill: '#d3d34d' } };
      } },
    { type: 'line', name: legendName, xAxisIndex: 3, yAxisIndex: 3, symbol: 'none', silent: true,
      itemStyle: { color: '#ff0000' },
      lineStyle: { color: '#ff0000', width: 1.6 },
      data: theoryX.map((x, i) => [x, theoryY[i]]) }
  ]
});
</script>
</body>
</html>
